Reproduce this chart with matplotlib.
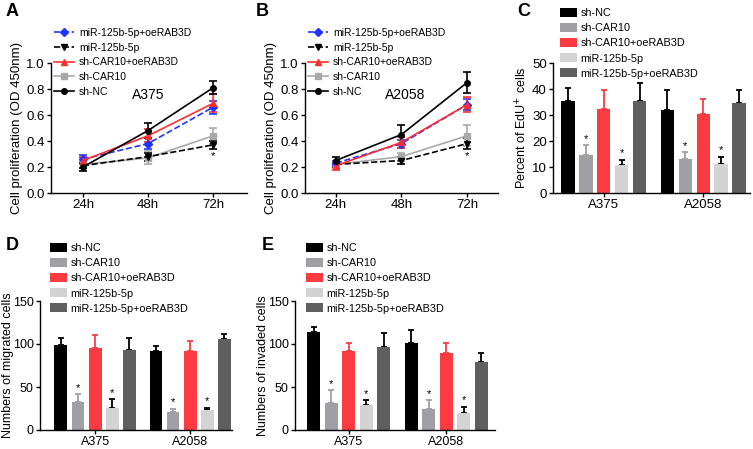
import matplotlib.pyplot as plt
import numpy as np

plt.rcParams["font.family"] = ["Liberation Sans", "DejaVu Sans"]

# ---- data ----
time_points = ["24h", "48h", "72h"]
line_groups = ["miR-125b-5p+oeRAB3D", "miR-125b-5p", "sh-CAR10+oeRAB3D", "sh-CAR10", "sh-NC"]

a375_mean = {
    "sh-NC": [0.20, 0.48, 0.81],
    "sh-CAR10": [0.22, 0.27, 0.44],
    "sh-CAR10+oeRAB3D": [0.25, 0.44, 0.69],
    "miR-125b-5p": [0.21, 0.28, 0.37],
    "miR-125b-5p+oeRAB3D": [0.26, 0.38, 0.66],
}
a375_err = {
    "sh-NC": [0.03, 0.06, 0.05],
    "sh-CAR10": [0.03, 0.05, 0.06],
    "sh-CAR10+oeRAB3D": [0.03, 0.05, 0.07],
    "miR-125b-5p": [0.02, 0.03, 0.03],
    "miR-125b-5p+oeRAB3D": [0.03, 0.04, 0.05],
}
a2058_mean = {
    "sh-NC": [0.25, 0.45, 0.85],
    "sh-CAR10": [0.22, 0.28, 0.44],
    "sh-CAR10+oeRAB3D": [0.21, 0.39, 0.68],
    "miR-125b-5p": [0.22, 0.25, 0.38],
    "miR-125b-5p+oeRAB3D": [0.23, 0.38, 0.68],
}
a2058_err = {
    "sh-NC": [0.03, 0.07, 0.08],
    "sh-CAR10": [0.03, 0.03, 0.08],
    "sh-CAR10+oeRAB3D": [0.03, 0.04, 0.06],
    "miR-125b-5p": [0.02, 0.03, 0.04],
    "miR-125b-5p+oeRAB3D": [0.02, 0.03, 0.04],
}

cell_lines = ["A375", "A2058"]
bar_groups = ["sh-NC", "sh-CAR10", "sh-CAR10+oeRAB3D", "miR-125b-5p", "miR-125b-5p+oeRAB3D"]

edu_mean = [[35.5, 31.8], [14.5, 13.2], [32.5, 30.5], [10.8, 11.0], [35.5, 34.8]]
edu_err = [[5.0, 8.0], [4.0, 2.5], [7.0, 5.5], [2.0, 3.0], [7.0, 5.0]]

mig_mean = [[99, 92], [33, 21], [95, 92], [26, 23], [93, 106]]
mig_err = [[8, 6], [9, 4], [15, 11], [10, 3], [14, 6]]

inv_mean = [[114, 101], [31, 25], [92, 89], [29, 20], [96, 79]]
inv_err = [[6, 15], [15, 10], [9, 12], [6, 7], [17, 10]]

# which bars get an asterisk (group index)
starred = [1, 3]

# ---- styles ----
line_style = {
    "sh-NC": dict(color="black", ls="-", marker="o"),
    "sh-CAR10": dict(color="#a9a9a9", ls="-", marker="s"),
    "sh-CAR10+oeRAB3D": dict(color="#ff2f2f", ls="-", marker="^"),
    "miR-125b-5p": dict(color="black", ls="--", marker="v"),
    "miR-125b-5p+oeRAB3D": dict(color="#2233ff", ls="--", marker="D"),
}
bar_colors = ["#000000", "#a0a0a4", "#fb3b40", "#d3d3d3", "#5f5f5f"]

W, H = 753, 449
fig = plt.figure(figsize=(W / 100, H / 100), dpi=100)


def px_axes(left, right, top, bottom):
    return fig.add_axes([left / W, 1 - bottom / H, (right - left) / W, (bottom - top) / H])


def style_axes(ax, size=9.5):
    ax.spines["top"].set_visible(False)
    ax.spines["right"].set_visible(False)
    ax.spines["left"].set_linewidth(1.0)
    ax.spines["bottom"].set_linewidth(1.0)
    ax.tick_params(labelsize=size, width=1.0, length=3, pad=1.5)


def line_panel(ax, means, errs, title, title_x, xlim, leg_anchor):
    x = np.arange(len(time_points))
    draw_order = ["sh-CAR10", "miR-125b-5p", "miR-125b-5p+oeRAB3D", "sh-CAR10+oeRAB3D", "sh-NC"]
    for g in draw_order:
        st = line_style[g]
        ax.errorbar(x, means[g], yerr=errs[g], color=st["color"], ls=st["ls"],
                    marker=st["marker"], ms=4, lw=1.2, capsize=3, elinewidth=1.2,
                    capthick=1.2)
    handles = []
    for g in line_groups:
        st = line_style[g]
        h, = ax.plot([], [], color=st["color"], ls=st["ls"], marker=st["marker"], ms=4, lw=1.2)
        handles.append(h)
    # star under miR-125b-5p at 72h
    ax.text(2, means["miR-125b-5p"][2] - errs["miR-125b-5p"][2] - 0.015, "*",
            ha="center", va="top", fontsize=8)
    yt = np.arange(0, 1.01, 0.2)
    ax.set_ylim(0, 1.0)
    ax.set_yticks(yt)
    ax.set_yticklabels([f"{v:.1f}" for v in yt])
    ax.set_xticks(x)
    ax.set_xticklabels(time_points)
    ax.set_xlim(*xlim)
    ax.set_ylabel("Cell proliferation (OD 450nm)", fontsize=9.5, labelpad=2)
    ax.text(title_x, 0.755, title, ha="center", va="center", fontsize=10)
    style_axes(ax)
    fig.legend(handles, line_groups, loc="upper left", bbox_to_anchor=leg_anchor,
               frameon=False, fontsize=7.5, handlelength=1.9, handletextpad=0.5,
               labelspacing=0.45, borderpad=0, borderaxespad=0)


def bar_panel(ax, means, errs, ylim, yticks, ylabel, xlim, leg_anchor, label_x=None,
              tick_size=9.5):
    n = len(bar_groups)
    step = 0.18
    width = 0.135
    x = np.arange(len(cell_lines))
    handles = []
    for i, g in enumerate(bar_groups):
        pos = x + (i - (n - 1) / 2) * step
        ecol = bar_colors[i] if i in (1, 2) else "black"
        b = ax.bar(pos, means[i], width, color=bar_colors[i], zorder=2)
        ax.errorbar(pos, means[i], yerr=[np.zeros(len(pos)), errs[i]], fmt="none",
                    ecolor=ecol, elinewidth=1.3, capsize=2.5, capthick=1.3, zorder=1)
        handles.append(b)
        if i in starred:
            for p, m, e in zip(pos, means[i], errs[i]):
                ax.text(p, m + e + ylim[1] * 0.01, "*", ha="center", va="bottom", fontsize=8)
    ax.set_ylim(*ylim)
    ax.set_yticks(yticks)
    ax.set_xticks(x)
    ax.set_xticklabels(cell_lines)
    ax.set_xlim(*xlim)
    ax.set_ylabel(ylabel, fontsize=9, labelpad=1.5)
    if label_x is not None:
        ax.yaxis.set_label_coords(label_x, 0.5)
    style_axes(ax, tick_size)
    fig.legend(handles, bar_groups, loc="upper left", bbox_to_anchor=leg_anchor,
               frameon=False, fontsize=7.8, handlelength=1.6, handleheight=0.9,
               handletextpad=0.3, labelspacing=0.45, borderpad=0, borderaxespad=0)


# A
axA = px_axes(51, 247, 63, 193)
line_panel(axA, a375_mean, a375_err, "A375", 1.0, (-0.49, 2.52), (54 / W, 1 - 28 / H))
# B
axB = px_axes(305, 498, 63, 193)
line_panel(axB, a2058_mean, a2058_err, "A2058", 1.05, (-0.47, 2.47), (308 / W, 1 - 28 / H))
# C
axC = px_axes(553, 750, 63, 193)
bar_panel(axC, edu_mean, edu_err, (0, 50), [0, 10, 20, 30, 40, 50],
          "Percent of EdU$^{+}$ cells", (-0.51, 1.47), (560 / W, 1 - 8 / H))
# D
axD = px_axes(40, 232, 301, 430)
bar_panel(axD, mig_mean, mig_err, (0, 150), [0, 50, 100, 150],
          "Numbers of migrated cells", (-0.58, 1.44), (50 / W, 1 - 243 / H),
          label_x=-0.138, tick_size=9)
# E
axE = px_axes(295, 495, 301, 430)
bar_panel(axE, inv_mean, inv_err, (0, 150), [0, 50, 100, 150],
          "Numbers of invaded cells", (-0.55, 1.5), (306 / W, 1 - 243 / H),
          label_x=-0.13, tick_size=9)

for lab, xx, yy in [("A", 6, 3), ("B", 256, 3), ("C", 517, 3), ("D", 6, 237), ("E", 262, 237)]:
    fig.text(xx / W, 1 - yy / H, lab, fontsize=13, fontweight="bold", ha="left", va="top")

fig.savefig("out.png", dpi=100)
